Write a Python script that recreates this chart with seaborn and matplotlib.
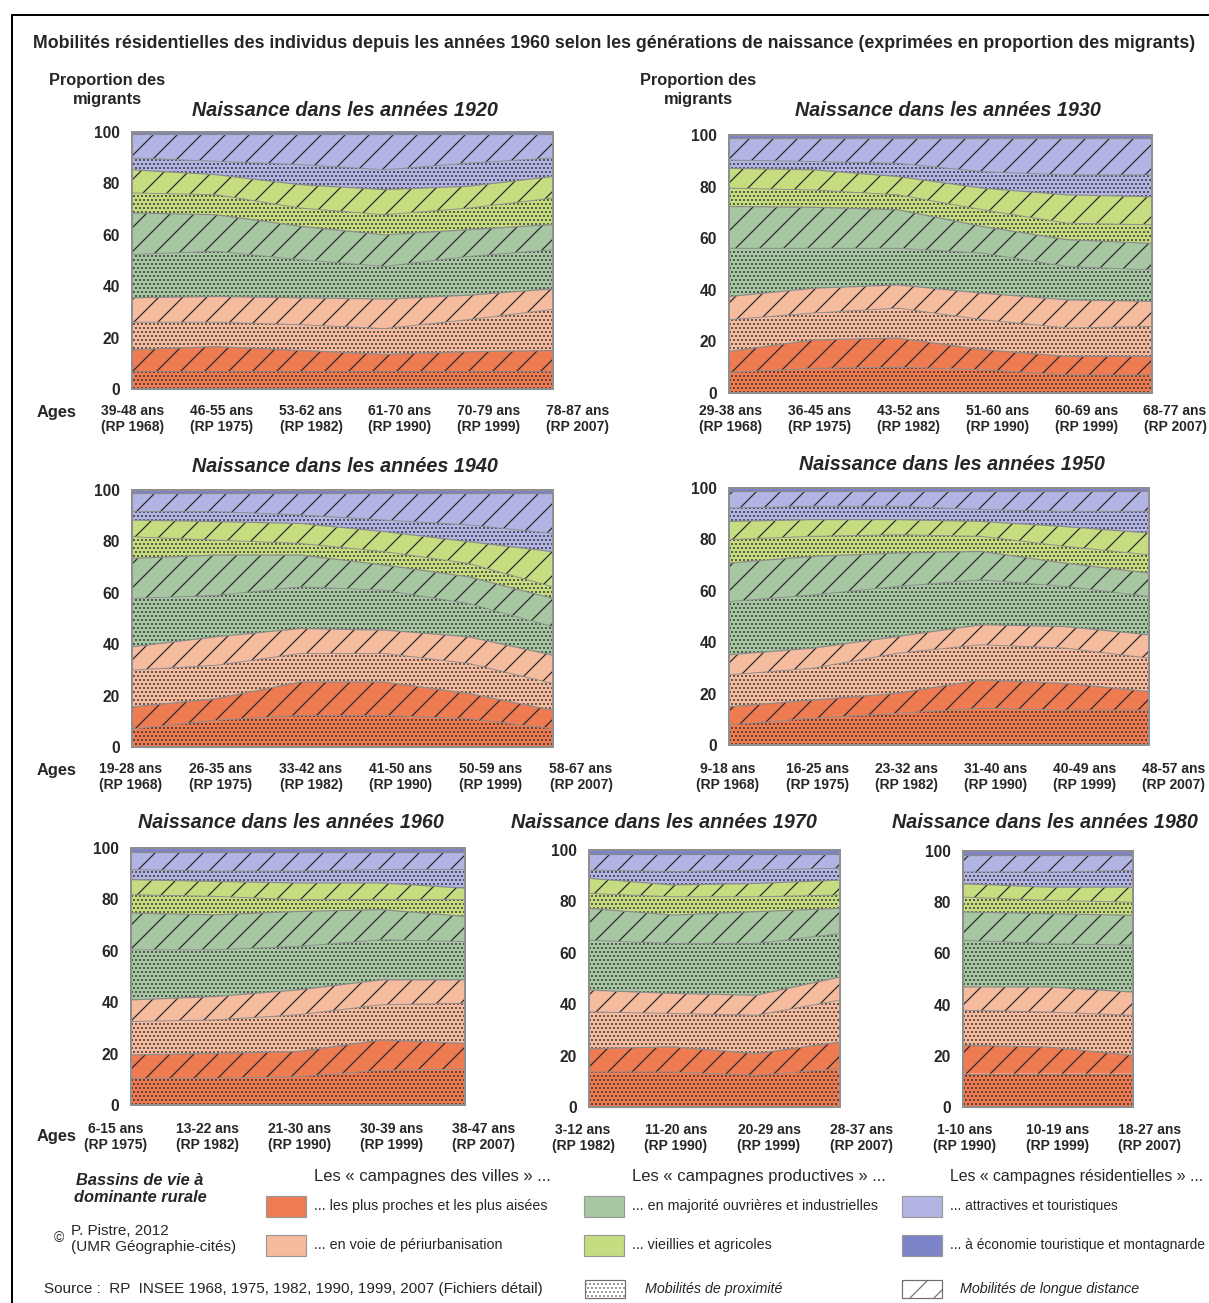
import numpy as np
import matplotlib
matplotlib.use("Agg")
import matplotlib.pyplot as plt
import seaborn as sns
from matplotlib.patches import Rectangle

# Share of migrants (%) per type of "bassin de vie", split into short-distance
# moves (proximité) and long-distance moves (longue distance).
# Row order, bottom to top:
#   proches/aisées prox, proches/aisées longue, périurbain prox, périurbain longue,
#   ouvrières prox, ouvrières longue, agricoles prox, agricoles longue,
#   touristiques prox, touristiques longue, montagnardes (total)
shares_1920 = [
    [7, 7, 7, 7, 7, 7],
    [8.3, 9.5, 8, 6.5, 7.5, 8],
    [10.7, 9.5, 10, 10, 12.5, 16],
    [9.5, 10, 10.5, 11.5, 9.5, 8],
    [16.8, 17.6, 14.8, 12.7, 15.1, 15.2],
    [16.2, 14.2, 13, 12.3, 10.4, 9.8],
    [7.8, 7.8, 7.1, 7.8, 8.4, 10.3],
    [9, 7.8, 9.1, 9.8, 8.5, 8.4],
    [4.6, 5.2, 7.8, 7.7, 9, 7.2],
    [9.4, 10.7, 12, 14, 11.4, 9.4],
    [0.7, 0.7, 0.7, 0.7, 0.7, 0.7],
]
shares_1930 = [
    [8, 9.5, 10, 9, 7, 7],
    [8.1, 11.1, 11.3, 7.8, 7.2, 7.2],
    [12.3, 10.4, 11.6, 11.6, 11, 11.6],
    [9, 9.6, 9, 10.3, 10.9, 9.7],
    [18.7, 15.5, 14.2, 15.5, 12.9, 12.2],
    [16.2, 15.9, 14.9, 10.3, 10.4, 10.3],
    [7.1, 6.7, 5.8, 6.5, 6.4, 7.2],
    [7.7, 7.8, 7.1, 8.4, 11, 10.9],
    [3.2, 3.2, 5.1, 6.4, 7.7, 8.4],
    [8.7, 9.3, 10, 13.2, 14.5, 14.5],
    [1, 1, 1, 1, 1, 1],
]
shares_1940 = [
    [7, 10.4, 12.3, 12.3, 11, 7.1],
    [8.6, 8.4, 13, 13, 9.8, 7.2],
    [14.3, 13, 11.1, 11.1, 11.7, 10.4],
    [9.1, 11.1, 9.7, 9.1, 10.4, 11],
    [18.8, 16.1, 16.2, 15.5, 12.9, 11.1],
    [15.6, 15.7, 12.4, 9.8, 10.4, 11],
    [8.4, 5.8, 4.5, 5.2, 5.2, 4.5],
    [6.5, 7.2, 7.8, 7.8, 8.5, 13.7],
    [3.3, 3.9, 3.3, 4.5, 6.5, 7.1],
    [7.1, 7.1, 8.4, 10.4, 12.3, 15.6],
    [1.3, 1.3, 1.3, 1.3, 1.3, 1.3],
]
shares_1950 = [
    [7.8, 10.4, 12.3, 14.3, 13.6, 13.6],
    [7.1, 7.1, 7.8, 11, 10.4, 7.2],
    [12.4, 12.4, 15.6, 13.7, 13.7, 13],
    [7.8, 7.8, 6.5, 7.8, 8.4, 9.1],
    [20.7, 20.7, 19.5, 17.5, 15.6, 14.9],
    [15, 15, 13, 11, 9.1, 9.1],
    [9.1, 7.8, 7.1, 5.9, 6.5, 7.1],
    [7.1, 6.5, 5.9, 5.8, 7.7, 8.5],
    [5.2, 5.2, 5.2, 4.6, 5.9, 8.4],
    [6.5, 5.8, 5.8, 7.1, 7.8, 7.8],
    [1.3, 1.3, 1.3, 1.3, 1.3, 1.3],
]
shares_1960 = [
    [10.4, 10.4, 11, 13.5, 14],
    [9.1, 9.7, 9.8, 11.8, 10],
    [13, 13, 14.3, 13.7, 15.6],
    [8.4, 9.1, 9.7, 9.7, 9.1],
    [19.5, 18.2, 16.9, 15.6, 14.9],
    [14.3, 13.6, 13.6, 11.7, 9.8],
    [7.1, 7.2, 4.6, 3.9, 6.5],
    [5.9, 5.8, 6.5, 6.5, 4.5],
    [3.9, 4, 4.6, 5.2, 7.2],
    [6.9, 7.5, 7.5, 6.9, 6.9],
    [1.5, 1.5, 1.5, 1.5, 1.5],
]
shares_1970 = [
    [13.6, 13.6, 12.3, 14.9],
    [9.1, 9.8, 8.5, 10.4],
    [14.3, 13, 14.9, 16.3],
    [8.5, 7.8, 7.8, 9],
    [19.4, 19.4, 20.1, 16.9],
    [12.4, 11.1, 12.4, 9.8],
    [5.8, 7.1, 5.8, 5.2],
    [5.9, 4.6, 5.2, 5.8],
    [3.2, 5.2, 5.2, 4.6],
    [6.3, 6.9, 6.3, 5.6],
    [1.5, 1.5, 1.5, 1.5],
]
shares_1980 = [
    [13, 13, 13],
    [11.1, 10.4, 7.2],
    [13.7, 13.7, 15.6],
    [9.1, 9.8, 9.1],
    [18.2, 16.9, 18.3],
    [11.1, 11.7, 11.7],
    [5.8, 5.2, 5.1],
    [5.2, 5.2, 5.9],
    [4.6, 5.9, 6.5],
    [6.7, 6.7, 6.1],
    [1.5, 1.5, 1.5],
]

ages_1920 = ["39-48 ans", "46-55 ans", "53-62 ans", "61-70 ans", "70-79 ans", "78-87 ans"]
ages_1930 = ["29-38 ans", "36-45 ans", "43-52 ans", "51-60 ans", "60-69 ans", "68-77 ans"]
ages_1940 = ["19-28 ans", "26-35 ans", "33-42 ans", "41-50 ans", "50-59 ans", "58-67 ans"]
ages_1950 = ["9-18 ans", "16-25 ans", "23-32 ans", "31-40 ans", "40-49 ans", "48-57 ans"]
ages_1960 = ["6-15 ans", "13-22 ans", "21-30 ans", "30-39 ans", "38-47 ans"]
ages_1970 = ["3-12 ans", "11-20 ans", "20-29 ans", "28-37 ans"]
ages_1980 = ["1-10 ans", "10-19 ans", "18-27 ans"]
censuses = ["RP 1968", "RP 1975", "RP 1982", "RP 1990", "RP 1999", "RP 2007"]

type_labels = ["... les plus proches et les plus aisées", "... en voie de périurbanisation",
               "... en majorité ouvrières et industrielles", "... vieillies et agricoles",
               "... attractives et touristiques", "... à économie touristique et montagnarde"]
group_labels = ["Les « campagnes des villes » ...", "Les « campagnes productives » ...",
                "Les « campagnes résidentielles » ..."]
type_colors = ["#EF7B52", "#F5BB9E", "#A7C7A3", "#C6DC80", "#B2B5E3", "#7D83C7"]

W, H = 1209, 1303
DPI = 144
HATCH_INK = "#262626"
DOTS, LINES = "......", "//"
DOT_LW, LINE_LW = 0.5, 0.6

sns.set_theme(style="white")
plt.rcParams["font.family"] = ["Liberation Sans", "DejaVu Sans"]
plt.rcParams["hatch.color"] = HATCH_INK
plt.rcParams["hatch.linewidth"] = LINE_LW


def px_rect(l, t, r, b):
    return [l / W, 1 - b / H, (r - l) / W, (b - t) / H]


def hatch_width(artist, hatch):
    lw = DOT_LW if hatch == DOTS else LINE_LW
    if hasattr(artist, "set_hatch_linewidth"):
        artist.set_hatch_linewidth(lw)


def draw_panel(ax, shares):
    shares = np.array(shares, dtype=float)
    n = shares.shape[1]
    x = np.arange(n)
    colors = [c for c in type_colors[:5] for _ in range(2)] + [type_colors[5]]
    hatches = [DOTS, LINES] * 5 + [""]
    # edgecolor sets the hatch ink; linewidth 0 keeps the outline itself hidden
    polys = ax.stackplot(x, *shares, colors=colors, hatch=hatches,
                         edgecolor=HATCH_INK, linewidth=0)
    for poly, h in zip(polys, hatches):
        hatch_width(poly, h)
    tops = np.cumsum(shares, axis=0)
    for k, top in enumerate(tops[:-1]):
        ax.plot(x, top, color="#8a8a8a", lw=0.45 if k % 2 == 0 else 0.6)
    ax.set_xlim(0, n - 1)
    ax.set_ylim(0, 100)
    ax.set_yticks(range(0, 101, 20))
    ax.set_yticklabels([str(v) for v in range(0, 101, 20)], fontsize=7.8, fontweight="bold")
    ax.set_xticks([])
    ax.tick_params(length=0, axis="y", pad=6)
    for s in ax.spines.values():
        s.set_color("#8f8f8f")
        s.set_linewidth(1.0)


fig = plt.figure(figsize=(W / DPI, H / DPI), dpi=DPI)

# overlay in pixel coordinates for titles, age labels, legend and frame
bg = fig.add_axes([0, 0, 1, 1])
bg.set_xlim(0, W)
bg.set_ylim(H, 0)
bg.axis("off")

bg.plot([12, W], [15, 15], color="black", lw=1.0)
bg.plot([12, 12], [15, H], color="black", lw=1.0)

bg.text(33, 44, "Mobilités résidentielles des individus depuis les années 1960 selon les générations "
        "de naissance (exprimées en proportion des migrants)",
        fontsize=8.9, fontweight="bold", va="center", ha="left")

# (data, age labels, decade, axes box l/t/r/b, title centre, age label first x / step / y)
panels = [
    (shares_1920, ages_1920, "1920", (132, 132, 553, 389), (345, 110), (133, 89, 419)),
    (shares_1930, ages_1930, "1930", (729, 135, 1152, 393), (948, 111), (731, 88.8, 419)),
    (shares_1940, ages_1940, "1940", (132, 490, 553, 747), (345, 466), (131, 90, 777)),
    (shares_1950, ages_1950, "1950", (729, 488, 1149, 745), (952, 465), (728, 89.2, 777)),
    (shares_1960, ages_1960, "1960", (131, 848, 465, 1105), (291, 822), (116, 92, 1137)),
    (shares_1970, ages_1970, "1970", (589, 850, 840, 1107), (664, 822), (583, 93, 1138)),
    (shares_1980, ages_1980, "1980", (963, 851, 1133, 1107), (1045, 822), (965, 92.5, 1138)),
]
for shares, ages, decade, box, tpos, lab in panels:
    ax = fig.add_axes(px_rect(*box))
    draw_panel(ax, shares)
    bg.text(tpos[0], tpos[1], f"Naissance dans les années {decade}", fontsize=9.9,
            fontweight="bold", fontstyle="italic", ha="center", va="center")
    rps = censuses[-len(ages):]
    for i, (a, c) in enumerate(zip(ages, rps)):
        bg.text(lab[0] + i * lab[1], lab[2], f"{a}\n({c})", fontsize=6.95, fontweight="bold",
                ha="center", va="center", linespacing=1.15)

for xc in (107, 698):
    bg.text(xc, 90, "Proportion des\nmigrants", fontsize=8.2, fontweight="bold",
            ha="center", va="center", linespacing=1.3)
for yc in (413, 770, 1136):
    bg.text(57, yc, "Ages", fontsize=8.2, fontweight="bold", ha="center", va="center")

# legend
bg.text(140, 1189, "Bassins de vie à\ndominante rurale", fontsize=8.2, fontweight="bold",
        fontstyle="italic", ha="center", va="center", linespacing=1.2)
bg.text(59, 1238, "©", fontsize=7, ha="center", va="center")
bg.text(71, 1239, "P. Pistre, 2012\n(UMR Géographie-cités)", fontsize=7.6, ha="left",
        va="center", linespacing=1.1)
bg.text(44, 1289, "Source :  RP  INSEE 1968, 1975, 1982, 1990, 1999, 2007 (Fichiers détail)",
        fontsize=7.6, ha="left", va="center")

col_x = [266, 584, 902]
for g, gx in enumerate(col_x):
    bg.text(gx + 48, 1176, group_labels[g], fontsize=8.3 if g < 2 else 7.95,
            ha="left", va="center")
    for r, ry in enumerate((1196, 1235)):
        i = 2 * g + r
        bg.add_patch(Rectangle((gx, ry), 40, 21, facecolor=type_colors[i],
                               edgecolor="#9a9a9a", lw=0.6))
        bg.text(gx + 48, ry + 10, type_labels[i], fontsize=7.1 if g < 2 else 6.85,
                ha="left", va="center")

box_dots = bg.add_patch(Rectangle((585, 1280), 40, 18, facecolor="white",
                                  edgecolor="#707070", lw=0.6, hatch=DOTS))
hatch_width(box_dots, DOTS)
bg.text(645, 1289, "Mobilités de proximité", fontsize=7.1, fontstyle="italic",
        ha="left", va="center")
bg.add_patch(Rectangle((902, 1280), 40, 18, facecolor="white", edgecolor="#707070",
                       lw=0.6, hatch=LINES))
bg.text(960, 1289, "Mobilités de longue distance", fontsize=7.1, fontstyle="italic",
        ha="left", va="center")

fig.savefig("out.png", dpi=DPI)
